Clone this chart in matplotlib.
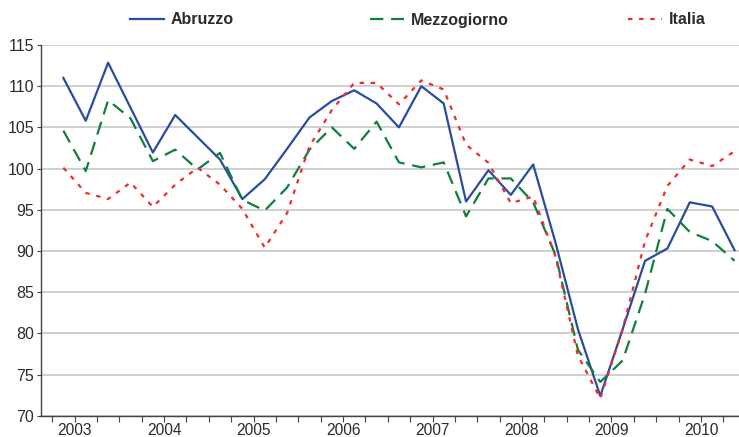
import matplotlib
matplotlib.use("Agg")
import matplotlib.pyplot as plt
import numpy as np

plt.rcParams["font.family"] = ["Liberation Sans", "DejaVu Sans"]

years = ["2003", "2004", "2005", "2006", "2007", "2008", "2009", "2010"]

abruzzo = [111.0, 105.8, 112.85, 107.4, 101.95, 106.5, 103.8, 101.1, 96.3, 98.7,
           102.4, 106.2, 108.2, 109.5, 107.9, 105.0, 110.0, 107.9, 96.0, 99.8,
           96.8, 100.5, 91.0, 80.5, 72.4, 80.5, 88.8, 90.3, 95.9, 95.4, 90.1]
mezzogiorno = [104.6, 99.7, 108.3, 106.1, 100.9, 102.3, 99.9, 101.9, 96.2, 94.9,
               97.7, 102.3, 105.0, 102.4, 105.7, 100.75, 100.15, 100.75, 94.2, 98.8,
               98.8, 95.9, 89.5, 78.0, 74.1, 76.7, 84.8, 95.1, 92.3, 91.2, 88.8]
italia = [100.1, 97.05, 96.3, 98.3, 95.35, 98.05, 100.1, 98.05, 95.1, 90.4,
          94.6, 102.7, 107.1, 110.4, 110.4, 107.8, 110.7, 109.6, 102.9, 100.7,
          95.8, 96.6, 89.3, 77.3, 72.1, 80.5, 91.2, 97.9, 101.1, 100.3, 102.1]

BLUE = "#2b4c9e"
GREEN = "#0e7f3c"
RED = "#f42a2a"
TXT = "#2b2b2b"

fig = plt.figure(figsize=(7.39, 4.37), dpi=100)
ax = fig.add_axes([41 / 739, 1 - 415.7 / 437, 1 - 41 / 739, (415.7 - 45) / 437])

x = np.arange(len(abruzzo))
l1, = ax.plot(x, abruzzo, color=BLUE, lw=1.6, label="Abruzzo", zorder=3)
l2, = ax.plot(x, mezzogiorno, color=GREEN, lw=1.6, dashes=(6, 3.5), label="Mezzogiorno", zorder=3)
l3, = ax.plot(x, italia, color=RED, lw=1.6, dashes=(2, 3), label="Italia", zorder=3)

ax.set_xlim(-1, 30.2)
ax.set_ylim(70, 115)
ax.set_yticks(range(70, 116, 5))
ax.yaxis.grid(True, color="#c8c8c8", lw=1.2)
ax.set_axisbelow(True)

ax.set_xticks(np.arange(0.5, 30, 4))
ax.set_xticklabels(years)
ax.set_xticks(np.arange(-0.5, 30.2, 1), minor=True)
ax.tick_params(axis="x", which="both", length=4, width=0.8, color="#444444",
               labelsize=11.2, labelcolor=TXT, pad=1.5)
ax.tick_params(axis="y", length=3, width=0.8, color="#444444",
               labelsize=11.5, labelcolor=TXT, pad=2)

for s in ["top", "right"]:
    ax.spines[s].set_visible(False)
for s in ["left", "bottom"]:
    ax.spines[s].set_color("#444444")
    ax.spines[s].set_linewidth(1.0)

# legend entries placed individually across the top
for handle, xpos in [(l1, 130), (l2, 370), (l3, 628)]:
    leg = fig.legend(handles=[handle], loc="center left",
                     bbox_to_anchor=(xpos / 739, 1 - 20 / 437),
                     frameon=False, borderpad=0, borderaxespad=0,
                     handlelength=2.1, handletextpad=0.45,
                     prop={"weight": "bold", "size": 11.5})
    for t in leg.get_texts():
        t.set_color(TXT)

fig.savefig("out.png", dpi=100)
